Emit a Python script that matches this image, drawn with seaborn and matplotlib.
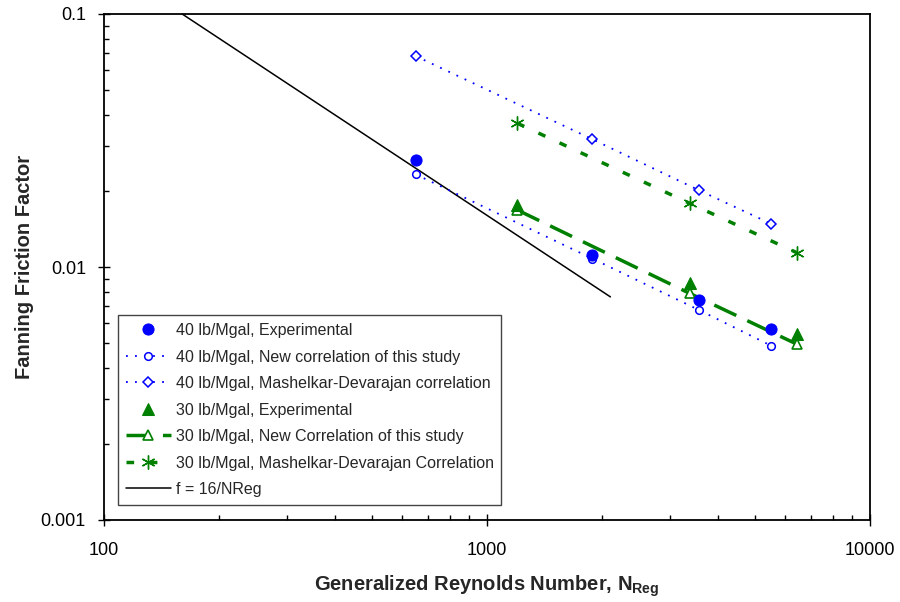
import numpy as np
import pandas as pd
import matplotlib
matplotlib.use("Agg")
import matplotlib.pyplot as plt
from matplotlib.ticker import FixedLocator, LogLocator, NullFormatter, FixedFormatter
import seaborn as sns

# Generalized Reynolds numbers for the two fluid loadings
re_40 = [651, 1883, 3577, 5514]
re_30 = [1200, 3380, 6450]

# Fanning friction factors, 40 lb/Mgal
f40_exp = [0.0264, 0.0112, 0.00743, 0.00569]
f40_new = [0.02325, 0.0108, 0.00676, 0.00489]
f40_md = [0.0682, 0.0320, 0.0201, 0.01483]

# Fanning friction factors, 30 lb/Mgal
f30_exp = [0.01758, 0.00862, 0.00542]
f30_new = [0.01680, 0.00787, 0.00495]
f30_md = [0.0370, 0.01786, 0.01138]

# Laminar reference line f = 16/NReg
re_lam = [160, 2100]
f_lam = [16 / r for r in re_lam]

x_ticks = [100, 1000, 10000]
x_tick_labels = ["100", "1000", "10000"]
y_ticks = [0.001, 0.01, 0.1]
y_tick_labels = ["0.001", "0.01", "0.1"]

sns.set_theme(style="white")
plt.rcParams["font.family"] = ["Liberation Sans", "DejaVu Sans"]
plt.rcParams["mathtext.fontset"] = "custom"
plt.rcParams["mathtext.rm"] = "Liberation Sans"
plt.rcParams["mathtext.bf"] = "Liberation Sans:bold"

blue = "#0000FF"
green = "#008000"

fig = plt.figure(figsize=(9.0, 6.02), dpi=100)
ax = fig.add_axes([104 / 900, 1 - 520 / 602, 766 / 900, 506 / 602])

d40 = pd.DataFrame({"re": re_40, "exp": f40_exp, "new": f40_new, "md": f40_md})
d30 = pd.DataFrame({"re": re_30, "exp": f30_exp, "new": f30_new, "md": f30_md})
dlam = pd.DataFrame({"re": re_lam, "f": f_lam})

sns.lineplot(data=d40, x="re", y="exp", ax=ax, color=blue, linestyle="none",
             marker="o", markersize=8, markeredgecolor=blue, markerfacecolor=blue,
             label="40 lb/Mgal, Experimental", zorder=5)
sns.lineplot(data=d40, x="re", y="new", ax=ax, color=blue, linestyle=(0, (1, 4)),
             linewidth=1.3, marker="o", markersize=5.5, markeredgecolor=blue,
             markerfacecolor="white", markeredgewidth=1.1,
             label="40 lb/Mgal, New correlation of this study", zorder=4)
sns.lineplot(data=d40, x="re", y="md", ax=ax, color=blue, linestyle=(0, (1, 4)),
             linewidth=1.3, marker="D", markersize=5.5, markeredgecolor=blue,
             markerfacecolor="white", markeredgewidth=1.1,
             label="40 lb/Mgal, Mashelkar-Devarajan correlation", zorder=4)
sns.lineplot(data=d30, x="re", y="exp", ax=ax, color=green, linestyle="none",
             marker="^", markersize=8, markeredgecolor=green, markerfacecolor=green,
             label="30 lb/Mgal, Experimental", zorder=5)
sns.lineplot(data=d30, x="re", y="new", ax=ax, color=green, linestyle=(0, (7, 3.5)),
             linewidth=2.5, marker="^", markersize=7, markeredgecolor=green,
             markerfacecolor="white", markeredgewidth=1.2,
             label="30 lb/Mgal, New Correlation of this study", zorder=4)
sns.lineplot(data=d30, x="re", y="md", ax=ax, color=green, linestyle=(0, (2.2, 4.5)),
             linewidth=2.5, marker=(6, 2, 0), markersize=10, markeredgecolor=green,
             markeredgewidth=1.0,
             label="30 lb/Mgal, Mashelkar-Devarajan Correlation", zorder=4)
sns.lineplot(data=dlam, x="re", y="f", ax=ax, color="black", linewidth=1.1,
             label="f = 16/NReg", zorder=3)

ax.set_xscale("log")
ax.set_yscale("log")
ax.set_xlim(100, 10000)
ax.set_ylim(0.001, 0.1)

ax.xaxis.set_major_locator(FixedLocator(x_ticks))
ax.xaxis.set_major_formatter(FixedFormatter(x_tick_labels))
ax.yaxis.set_major_locator(FixedLocator(y_ticks))
ax.yaxis.set_major_formatter(FixedFormatter(y_tick_labels))
ax.xaxis.set_minor_locator(LogLocator(base=10, subs=np.arange(2, 10)))
ax.yaxis.set_minor_locator(LogLocator(base=10, subs=np.arange(2, 10)))
ax.xaxis.set_minor_formatter(NullFormatter())
ax.yaxis.set_minor_formatter(NullFormatter())

ax.tick_params(axis="both", which="major", direction="inout", length=8, width=1,
               color="black", labelsize=13, labelcolor="black",
               bottom=True, left=True, top=False, right=False)
ax.tick_params(axis="x", which="major", pad=12)
ax.tick_params(axis="y", which="major", pad=9)
ax.tick_params(axis="both", which="minor", direction="in", length=3.5, width=1,
               color="black", bottom=True, left=True, top=False, right=False)

for sp in ax.spines.values():
    sp.set_color("black")
    sp.set_linewidth(1.3)

ax.set_xlabel(r"Generalized Reynolds Number, N$_{\mathbf{Reg}}$", fontsize=14.5,
              fontweight="bold", labelpad=10)
ax.set_ylabel("Fanning Friction Factor", fontsize=14.5, fontweight="bold", labelpad=5)

leg = ax.legend(loc="lower left", bbox_to_anchor=(14 / 766, 15 / 506), borderaxespad=0,
                fontsize=11.5, frameon=True, fancybox=False, framealpha=1,
                edgecolor="#444444", handlelength=2.8, handletextpad=0.3,
                labelspacing=0.72, borderpad=0.5, numpoints=1)
leg.get_frame().set_linewidth(1.0)

fig.savefig("out.png", dpi=100)
